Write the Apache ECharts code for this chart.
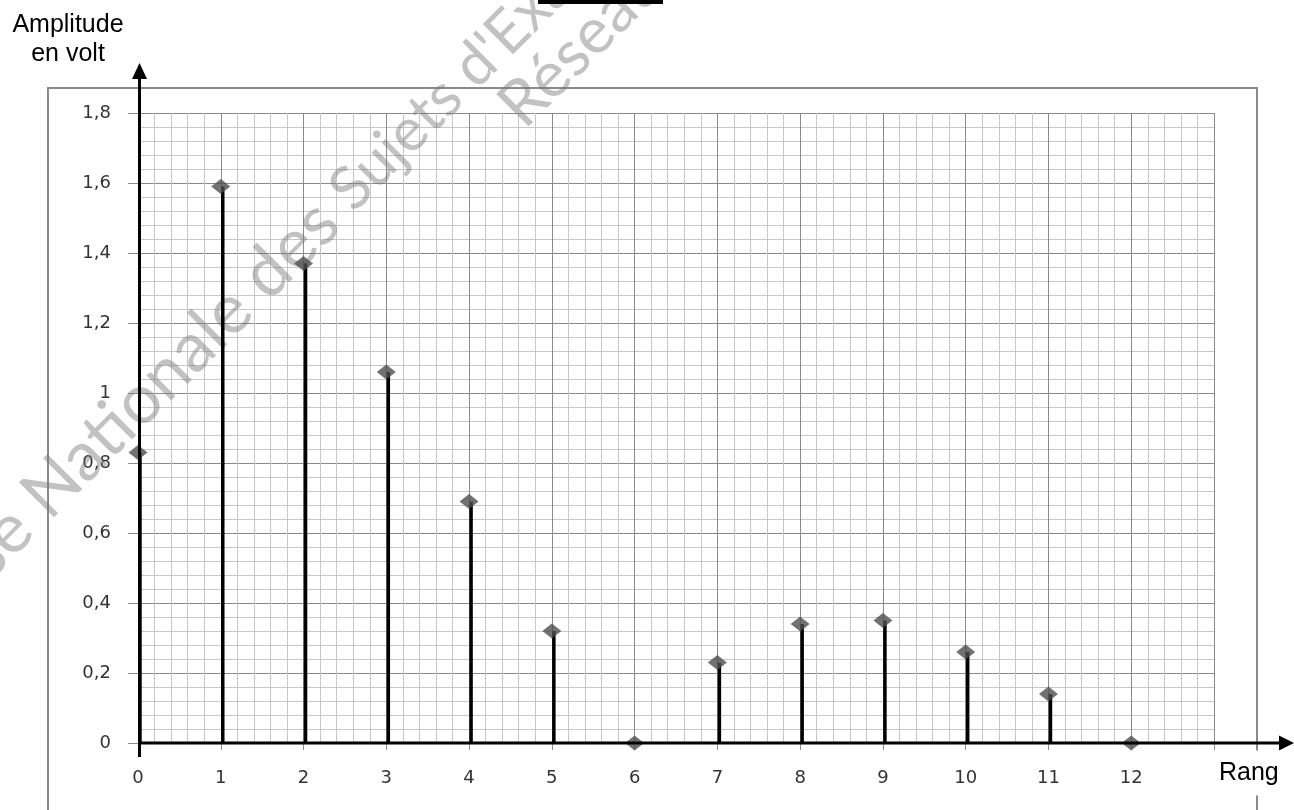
<!DOCTYPE html>
<html>
<head>
<meta charset="utf-8">
<script src="https://cdn.jsdelivr.net/npm/echarts@6/dist/echarts.min.js"></script>
<style>
  html, body { margin: 0; padding: 0; background: #fff; }
  #chart { width: 1294px; height: 810px; }
</style>
</head>
<body>
<div id="chart"></div>
<script>
// ---- data ----
const ranks = [0, 1, 2, 3, 4, 5, 6, 7, 8, 9, 10, 11, 12];
const amplitudes = [0.83, 1.59, 1.37, 1.06, 0.69, 0.32, 0, 0.23, 0.34, 0.35, 0.26, 0.14, 0];
const yTitleLines = ['Amplitude', 'en volt'];
const xTitle = 'Rang';
const watermarkLine1a = 'Base Nationale des ';
const watermarkLine1b = "Sujets d'Examens de l'enseignement professionnel";
const watermarkLine2 = 'Réseau Canopé';

const points = ranks.map((r, i) => [r, amplitudes[i]]);

const chart = echarts.init(document.getElementById('chart'), null, { renderer: 'canvas' });

const labelFont = { fontFamily: 'DejaVu Sans', fontSize: 18, color: '#333333' };

chart.setOption({
  animation: false,
  backgroundColor: '#ffffff',
  grid: { left: 138, right: 80, top: 113, bottom: 67, containLabel: false },
  xAxis: {
    type: 'value', min: 0, max: 13, interval: 1,
    axisLine: { show: false },
    axisTick: { show: true, length: 7, lineStyle: { color: '#8c8c8c', width: 1 } },
    minorTick: { show: false, splitNumber: 5 },
    axisLabel: Object.assign({ margin: 26 }, labelFont),
    splitLine: { show: true, lineStyle: { color: '#8a8a8a', width: 1 } },
    minorSplitLine: { show: true, lineStyle: { color: '#c6c6c6', width: 1 } }
  },
  yAxis: {
    type: 'value', min: 0, max: 1.8, interval: 0.2,
    axisLine: { show: true, lineStyle: { color: '#8c8c8c', width: 1 } },
    axisTick: { show: true, length: 10, lineStyle: { color: '#8c8c8c', width: 1 } },
    minorTick: { show: false, splitNumber: 5 },
    axisLabel: Object.assign({
      margin: 27,
      formatter: v => String(Math.round(v * 10) / 10).replace('.', ',')
    }, labelFont),
    splitLine: { show: true, lineStyle: { color: '#8a8a8a', width: 1 } },
    minorSplitLine: { show: true, lineStyle: { color: '#c6c6c6', width: 1 } }
  },
  series: [
    {
      type: 'custom',
      z: 3,
      data: points,
      renderItem: function (params, api) {
        const top = api.coord([api.value(0), api.value(1)]);
        const base = api.coord([api.value(0), 0]);
        return {
          type: 'line',
          shape: { x1: top[0] + 2, y1: top[1], x2: base[0] + 2, y2: base[1] },
          style: { stroke: '#000000', lineWidth: 3.5 }
        };
      }
    },
    {
      type: 'scatter',
      z: 4,
      symbol: 'diamond',
      symbolSize: [19, 15],
      itemStyle: { color: '#4d4d4d' },
      data: points
    }
  ]
});

// ---- decorations positioned from the chart's own scales ----
const W = chart.getWidth();
const origin = chart.convertToPixel({ gridIndex: 0 }, [0, 0]);
const topPt = chart.convertToPixel({ gridIndex: 0 }, [0, 1.8]);
const ax = origin[0] + 1.5;
const ay = origin[1];
const ANG = 45 * Math.PI / 180;
const wmBase = { fontFamily: 'Lato', fontWeight: 400, fill: 'rgba(120,120,120,0.45)' };

chart.setOption({
  graphic: [
    // outer frame
    { type: 'rect', z: 0, silent: true,
      shape: { x: 48, y: 88, width: 1209, height: 800 },
      style: { fill: 'none', stroke: '#8a8a8a', lineWidth: 2 } },
    // watermark
    { type: 'text', z: 1, silent: true, x: 340, y: 200, rotation: ANG,
      style: Object.assign({ text: watermarkLine1a, align: 'right', verticalAlign: 'middle', fontSize: 69 }, wmBase) },
    { type: 'text', z: 1, silent: true, x: 340, y: 200, rotation: ANG,
      style: Object.assign({ text: watermarkLine1b, align: 'left', verticalAlign: 'middle', fontSize: 60 }, wmBase) },
    { type: 'text', z: 1, silent: true, x: 510, y: 116, rotation: ANG,
      style: Object.assign({ text: watermarkLine2, align: 'left', verticalAlign: 'middle', fontSize: 64 }, wmBase) },
    // y axis thick line + arrow
    { type: 'line', z: 10, silent: true,
      shape: { x1: ax, y1: ay + 14, x2: ax, y2: topPt[1] - 35 },
      style: { stroke: '#000', lineWidth: 3 } },
    { type: 'polygon', z: 10, silent: true,
      shape: { points: [[ax, topPt[1] - 50], [ax - 7.5, topPt[1] - 34], [ax + 7.5, topPt[1] - 34]] },
      style: { fill: '#000' } },
    // x axis thick line + arrow
    { type: 'line', z: 10, silent: true,
      shape: { x1: origin[0], y1: ay, x2: W - 12, y2: ay },
      style: { stroke: '#000', lineWidth: 3 } },
    { type: 'polygon', z: 10, silent: true,
      shape: { points: [[W, ay], [W - 15, ay - 7.5], [W - 15, ay + 7.5]] },
      style: { fill: '#000' } },
    // axis titles
    { type: 'text', z: 10, silent: true, x: 68, y: 25,
      style: { text: yTitleLines[0], fontFamily: 'Liberation Sans', fontSize: 25, fill: '#000', align: 'center', verticalAlign: 'middle' } },
    { type: 'text', z: 10, silent: true, x: 68, y: 54,
      style: { text: yTitleLines[1], fontFamily: 'Liberation Sans', fontSize: 25, fill: '#000', align: 'center', verticalAlign: 'middle' } },
    { type: 'text', z: 10, silent: true, x: 1203, y: 773,
      style: { text: xTitle, fontFamily: 'Liberation Sans', fontSize: 25, fill: '#000', align: 'left', verticalAlign: 'middle',
               backgroundColor: '#fff', padding: [10, 8, 10, 16] } },
    // redaction bar at top
    { type: 'rect', z: 10, silent: true,
      shape: { x: 538, y: 0, width: 125, height: 4 },
      style: { fill: '#000' } }
  ]
});
</script>
</body>
</html>
